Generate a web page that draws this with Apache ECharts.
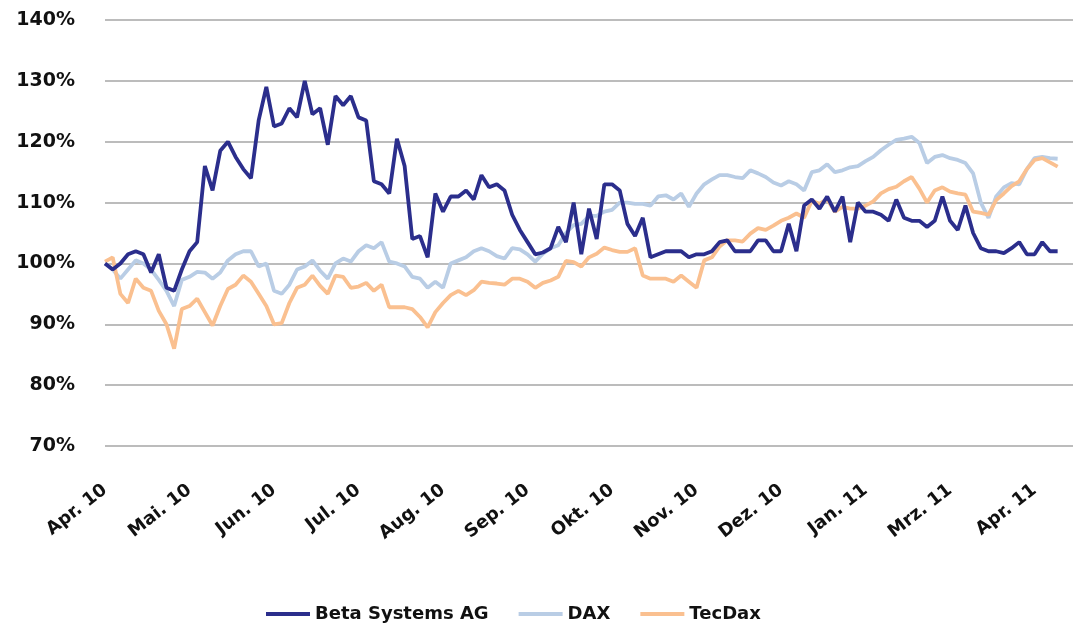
<!DOCTYPE html>
<html>
<head>
<meta charset="utf-8">
<script src="https://cdn.jsdelivr.net/npm/echarts@6/dist/echarts.min.js"></script>
<style>
  html, body { margin: 0; padding: 0; background: #fff; }
  #chart { width: 1076px; height: 636px; }
</style>
</head>
<body>
<div id="chart"></div>
<script>
// month labels, one every 11 points (every 2nd trading day)
var tickLabels = ['Apr. 10', 'Mai. 10', 'Jun. 10', 'Jul. 10', 'Aug. 10', 'Sep. 10',
  'Okt. 10', 'Nov. 10', 'Dez. 10', 'Jan. 11', 'Mrz. 11', 'Apr. 11'];
var labelStep = 11;
var extraSlots = 2; // empty room at the right end, gridlines run past the data

var beta = [100, 99, 100, 101.5, 102, 101.5, 98.5, 101.5, 96, 95.5,
  99, 102, 103.5, 116, 112, 118.5, 120, 117.5, 115.5, 114,
  123.5, 129, 122.5, 123, 125.5, 124, 130, 124.5, 125.5, 119.5,
  127.5, 126, 127.5, 124, 123.5, 113.5, 113, 111.5, 120.5, 116,
  104, 104.5, 101, 111.5, 108.5, 111, 111, 112, 110.5, 114.5,
  112.5, 113, 112, 108, 105.5, 103.5, 101.5, 101.8, 102.5, 106,
  103.5, 110, 101.5, 109, 104, 113, 113, 112, 106.5, 104.5,
  107.5, 101, 101.5, 102, 102, 102, 101, 101.5, 101.5, 102,
  103.5, 103.8, 102, 102, 102, 103.8, 103.8, 102, 102, 106.5,
  102, 109.5, 110.5, 109, 111, 108.5, 111, 103.5, 110, 108.5,
  108.5, 108, 107, 110.5, 107.5, 107, 107, 106, 107, 111,
  107, 105.5, 109.5, 105, 102.5, 102, 102, 101.7, 102.5, 103.5,
  101.5, 101.5, 103.5, 102, 102];

var dax = [100, 99, 97.5, 99, 100.5, 100, 99, 97.3, 95.5, 93,
  97.3, 97.8, 98.6, 98.5, 97.5, 98.5, 100.5, 101.5, 102, 102,
  99.5, 100, 95.5, 95, 96.5, 99, 99.5, 100.5, 98.8, 97.5,
  100, 100.8, 100.3, 102, 103, 102.5, 103.5, 100.3, 100, 99.5,
  97.8, 97.5, 96, 97, 96, 100, 100.5, 101, 102, 102.5,
  102, 101.2, 100.8, 102.5, 102.3, 101.5, 100.3, 101.6, 102.5, 103,
  105, 106.3, 106.5, 107.8, 107.8, 108.5, 108.8, 110, 110, 109.8,
  109.8, 109.5, 111, 111.2, 110.5, 111.5, 109.3, 111.5, 113, 113.8,
  114.5, 114.5, 114.2, 114, 115.3, 114.8, 114.2, 113.3, 112.8, 113.5,
  113, 112, 115, 115.3, 116.3, 115, 115.3, 115.8, 116, 116.8,
  117.5, 118.6, 119.5, 120.3, 120.5, 120.8, 119.8, 116.5, 117.5, 117.8,
  117.3, 117, 116.5, 114.8, 110, 107.5, 111, 112.5, 113.2, 113,
  115.5, 117.3, 117.5, 117.3, 117.2];

var tecDax = [100.3, 101, 95, 93.5, 97.5, 96, 95.5, 92.2, 90, 86,
  92.5, 93, 94.2, 92, 89.8, 93, 95.8, 96.5, 98, 97,
  95, 93, 90, 90.2, 93.5, 96, 96.5, 98, 96.3, 95,
  98, 97.8, 96, 96.2, 96.8, 95.5, 96.5, 92.8, 92.8, 92.8,
  92.5, 91.2, 89.5, 92, 93.5, 94.8, 95.5, 94.8, 95.6, 97,
  96.8, 96.7, 96.5, 97.5, 97.5, 97, 96, 96.8, 97.2, 97.8,
  100.4, 100.2, 99.5, 101, 101.6, 102.6, 102.2, 101.9, 101.9, 102.5,
  98, 97.5, 97.5, 97.5, 97, 98, 97, 96, 100.5, 101,
  102.8, 103.8, 103.8, 103.6, 104.9, 105.8, 105.5, 106.2, 107, 107.5,
  108.2, 107.5, 110.3, 109.8, 110.6, 108.5, 109.3, 109, 109, 109.5,
  110.2, 111.5, 112.2, 112.6, 113.5, 114.2, 112.3, 110, 112, 112.5,
  111.8, 111.5, 111.3, 108.5, 108.3, 108, 110.4, 111.5, 112.7, 113.5,
  115.5, 117, 117.3, 116.6, 115.9];

var categories = [];
for (var i = 0; i < beta.length + extraSlots; i++) {
  categories.push(i % labelStep === 0 && tickLabels[i / labelStep] ? tickLabels[i / labelStep] : '');
}

var font = 'DejaVu Sans';
var chart = echarts.init(document.getElementById('chart'));

chart.setOption({
  animation: false,
  backgroundColor: '#fff',
  grid: { left: 105, right: 3, top: 20, bottom: 190 },
  legend: {
    left: 261,
    top: 600,
    icon: 'rect',
    itemWidth: 44,
    itemHeight: 4,
    itemGap: 30,
    textStyle: { fontFamily: font, fontWeight: 'bold', fontSize: 18, color: '#111' },
    data: ['Beta Systems AG', 'DAX', 'TecDax']
  },
  xAxis: {
    type: 'category',
    boundaryGap: false,
    data: categories,
    axisLine: { show: false },
    axisTick: { show: false },
    axisLabel: {
      interval: labelStep - 1,
      rotate: 38,
      margin: 42,
      fontFamily: font,
      fontWeight: 'bold',
      fontSize: 18,
      color: '#111'
    },
    splitLine: { show: false }
  },
  yAxis: {
    type: 'value',
    min: 70,
    max: 140,
    interval: 10,
    axisLine: { show: false },
    axisTick: { show: false },
    axisLabel: {
      formatter: '{value}%',
      margin: 30,
      fontFamily: font,
      fontWeight: 'bold',
      fontSize: 19,
      color: '#111'
    },
    splitLine: { lineStyle: { color: '#a6a6a6', width: 1.5 } }
  },
  series: [
    {
      name: 'DAX', type: 'line', data: dax, showSymbol: false, symbol: 'none',
      lineStyle: { color: '#b9cde5', width: 3.8 }, itemStyle: { color: '#b9cde5' }, z: 2
    },
    {
      name: 'TecDax', type: 'line', data: tecDax, showSymbol: false, symbol: 'none',
      lineStyle: { color: '#fac090', width: 3.8 }, itemStyle: { color: '#fac090' }, z: 3
    },
    {
      name: 'Beta Systems AG', type: 'line', data: beta, showSymbol: false, symbol: 'none',
      lineStyle: { color: '#2b2e8c', width: 3.8 }, itemStyle: { color: '#2b2e8c' }, z: 4
    }
  ]
});
</script>
</body>
</html>
